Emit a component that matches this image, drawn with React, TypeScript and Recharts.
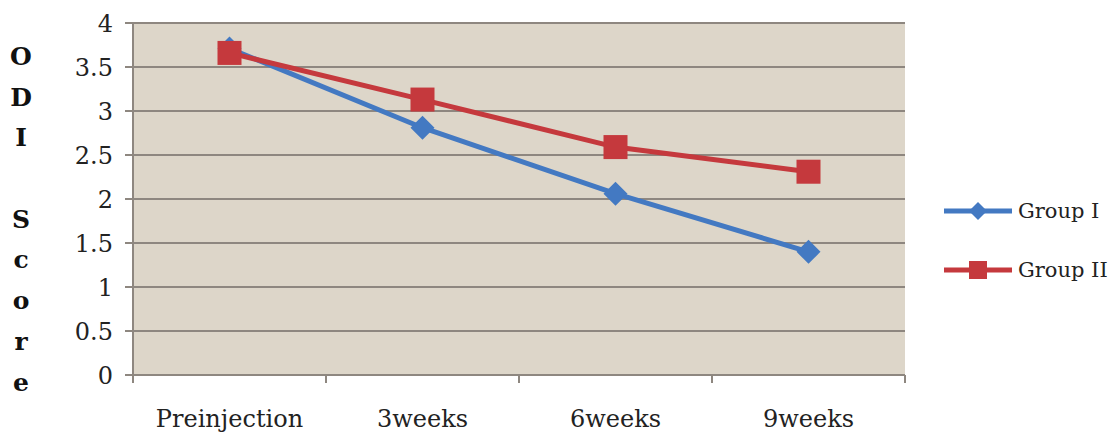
import { LineChart, Line, XAxis, YAxis, CartesianGrid } from 'recharts';

const CATEGORIES = ['Preinjection', '3weeks', '6weeks', '9weeks'];
const GROUP_I = [3.71, 2.81, 2.06, 1.4];
const GROUP_II = [3.66, 3.13, 2.59, 2.31];
const Y_TICKS = [0, 0.5, 1, 1.5, 2, 2.5, 3, 3.5, 4];
const X_TICKS = [0, 1, 2, 3, 4];
const Y_LABEL = ['O', 'D', 'I', '', 'S', 'c', 'o', 'r', 'e'];

const BLUE = '#4379c2';
const RED = '#c5393d';
const GRID = '#8e8780';
const FONT = '"DejaVu Serif", "Liberation Serif", serif';
const HALF_BAND = 96.5;

const data = CATEGORIES.map((name, i) => ({
  x: i + 0.5,
  name,
  g1: GROUP_I[i],
  g2: GROUP_II[i],
}));

function Diamond({ cx, cy, size }: any) {
  if (cx == null || cy == null) return null;
  const r = size ?? 12;
  return (
    <polygon
      points={`${cx},${cy - r} ${cx + r},${cy} ${cx},${cy + r} ${cx - r},${cy}`}
      fill={BLUE}
    />
  );
}

function Square({ cx, cy, size }: any) {
  if (cx == null || cy == null) return null;
  const s = size ?? 12;
  return <rect x={cx - s} y={cy - s} width={s * 2} height={s * 2} fill={RED} />;
}

function XTick({ x, y, payload }: any) {
  const label = CATEGORIES[payload.value];
  if (!label) return null;
  return (
    <text x={x + HALF_BAND} y={y + 42} textAnchor="middle" fontSize={24} fontFamily={FONT} fill="#222">
      {label}
    </text>
  );
}

function LegendBox() {
  const items = [
    { label: 'Group I', color: BLUE, kind: 'diamond' },
    { label: 'Group II', color: RED, kind: 'square' },
  ];
  return (
    <div style={{ position: 'absolute', left: 944, top: 181, width: 171 }}>
      {items.map((it) => (
        <div key={it.label} style={{ display: 'flex', alignItems: 'center', height: 59 }}>
          <svg width={70} height={26}>
            <line x1={0} y1={13} x2={68} y2={13} stroke={it.color} strokeWidth={5} />
            {it.kind === 'diamond' ? (
              <Diamond cx={34} cy={13} size={9} />
            ) : (
              <Square cx={34} cy={13} size={9} />
            )}
          </svg>
          <span style={{ fontFamily: FONT, fontSize: 21, color: '#222', marginLeft: 4 }}>{it.label}</span>
        </div>
      ))}
    </div>
  );
}

export default function App() {
  return (
    <div style={{ position: 'absolute', left: 0, top: 0, width: 1115, height: 440, background: '#fff' }}>
      <LineChart width={1115} height={440} data={data} margin={{ top: 23, right: 210, bottom: 0, left: 0 }}>
        <CartesianGrid vertical={false} fill="#ddd6c9" stroke={GRID} strokeWidth={2} />
        <XAxis
          dataKey="x"
          type="number"
          domain={[0, 4]}
          ticks={X_TICKS}
          tick={<XTick />}
          axisLine={{ stroke: GRID, strokeWidth: 2 }}
          tickLine={{ stroke: GRID, strokeWidth: 2 }}
          tickSize={8}
          interval={0}
          height={65}
        />
        <YAxis
          type="number"
          domain={[0, 4]}
          ticks={Y_TICKS}
          width={133}
          interval={0}
          axisLine={{ stroke: GRID, strokeWidth: 2 }}
          tickLine={{ stroke: GRID, strokeWidth: 2 }}
          tickSize={8}
          tickMargin={12}
          tick={{ fontSize: 24, fontFamily: FONT, fill: '#222' }}
        />
        <Line
          dataKey="g1"
          name="Group I"
          stroke={BLUE}
          strokeWidth={5}
          dot={<Diamond />}
          activeDot={false}
          isAnimationActive={false}
        />
        <Line
          dataKey="g2"
          name="Group II"
          stroke={RED}
          strokeWidth={5}
          dot={<Square />}
          activeDot={false}
          isAnimationActive={false}
        />
      </LineChart>
      <LegendBox />
      <div
        style={{
          position: 'absolute',
          left: 6,
          top: 37,
          width: 30,
          fontFamily: FONT,
          fontWeight: 'bold',
          fontSize: 25,
          lineHeight: '40.7px',
          textAlign: 'center',
          color: '#111',
        }}
      >
        {Y_LABEL.map((c, i) => (
          <div key={i} style={{ height: 40.7 }}>{c}</div>
        ))}
      </div>
    </div>
  );
}
